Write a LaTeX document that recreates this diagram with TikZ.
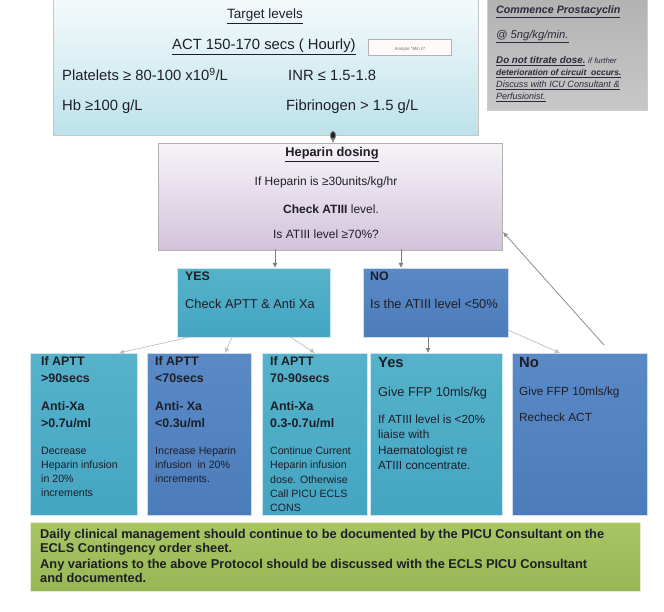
\documentclass[tikz,border=0pt]{standalone}
\usepackage{fontspec}
\setmainfont{Liberation Sans}
\usetikzlibrary{arrows.meta}

\definecolor{ink}{HTML}{1E1E28}
\definecolor{tealA}{HTML}{55B2CA}
\definecolor{tealB}{HTML}{45A5C2}
\definecolor{bluA}{HTML}{5A89C6}
\definecolor{bluB}{HTML}{4C7CBB}
\definecolor{cyanT}{HTML}{F6FBFC}
\definecolor{cyanB}{HTML}{BDE2EA}
\definecolor{lavT}{HTML}{F7F4F8}
\definecolor{lavB}{HTML}{D2C3DA}
\definecolor{greyA}{HTML}{B2B2B2}
\definecolor{greyB}{HTML}{C8C8C8}
\definecolor{grnA}{HTML}{A8C564}
\definecolor{grnB}{HTML}{97B754}
\definecolor{grayink}{HTML}{2A2A3C}

\tikzset{
  panel/.style={anchor=north west, inner sep=0pt, line width=0.8pt},
  tealbox/.style={panel, draw=white!70!tealA, top color=tealA, bottom color=tealB},
  bluebox/.style={panel, draw=white!70!bluA, top color=bluA, bottom color=bluB},
  lbl/.style={anchor=mid west, inner sep=0pt, text=ink},
  ctr/.style={anchor=mid, inner sep=0pt, text=ink},
  ftop/.style={font=\fontsize{14.8}{17}\selectfont},
  fhep/.style={font=\fontsize{12}{14}\selectfont},
  fdec/.style={font=\fontsize{12.8}{15}\selectfont},
  fhead/.style={font=\fontsize{12.4}{14}\selectfont\bfseries},
  fsm/.style={font=\fontsize{10.6}{12}\selectfont},
  fmid/.style={font=\fontsize{11.8}{14}\selectfont},
  fbig/.style={font=\fontsize{14.8}{17}\selectfont\bfseries},
  fg/.style={font=\fontsize{10.7}{12}\selectfont\itshape, text=grayink},
  conn/.style={draw=black!50, line width=0.8pt, -{Latex[length=5pt,width=5pt]}},
  faint/.style={draw=black!25, line width=0.7pt, -{Latex[length=5pt,width=5pt]}},
}

\begin{document}
\begin{tikzpicture}[x=1pt,y=-1pt]
\useasboundingbox (0,0) rectangle (664,612);

% ---- target levels panel ----
\node[panel, draw=black!22, top color=cyanT, bottom color=cyanB,
      minimum width=425pt, minimum height=140pt] (target) at (53,-5) {};
\node[ctr, font=\fontsize{13.5}{15}\selectfont] (tgtitle) at (265,16) {\underline{Target levels}};
\node[lbl, ftop] (act) at (172,47) {\underline{ACT 150-170 secs ( Hourly)}};
\node[panel, draw=black!30, fill=white!92!pink, minimum width=83pt, minimum height=16pt]
      (analyte) at (368,39) {};
\node[ctr, font=\fontsize{4.5}{5}\selectfont, text=black!55] (analytetxt) at (analyte.center) {Analyte *Min II*};
\node[lbl, ftop] (plt) at (62,78) {Platelets ≥ 80-100 x10\textsuperscript{9}/L};
\node[lbl, ftop] (inr) at (288,78) {INR ≤ 1.5-1.8};
\node[lbl, ftop] (hb) at (62,108) {Hb ≥100 g/L};
\node[lbl, ftop] (fib) at (286,108) {Fibrinogen > 1.5 g/L};

% ---- prostacyclin note ----
\node[panel, draw=black!20, top color=greyA, bottom color=greyB,
      minimum width=160pt, minimum height=115pt] (prosta) at (487,-5) {};
\node[lbl, fg, font=\fontsize{10.7}{12}\selectfont\itshape\bfseries] (p1) at (496,11) {\underline{Commence Prostacyclin}};
\node[lbl, fg, font=\fontsize{11.2}{12}\selectfont\itshape] (p2) at (496,36) {\underline{@ 5ng/kg/min.}};
\node[lbl, fg, font=\fontsize{9.8}{11}\selectfont\itshape\bfseries] (p3) at (496,61) {\underline{Do not titrate dose.}\ {\fontsize{7.8}{9}\selectfont\mdseries if further}};
\node[lbl, fg, font=\fontsize{8.5}{9}\selectfont\itshape\bfseries] (p4) at (496,73) {\underline{deterioration of circuit \ occurs.}};
\node[lbl, fg, font=\fontsize{9.1}{10}\selectfont\itshape] (p5) at (496,85) {\underline{Discuss with ICU Consultant \&}};
\node[lbl, fg, font=\fontsize{9}{10}\selectfont\itshape] (p6) at (496,97) {\underline{Perfusionist.}};

% ---- heparin dosing panel ----
\node[panel, draw=black!30, top color=lavT, bottom color=lavB,
      minimum width=344pt, minimum height=107pt] (hep) at (158,143) {};
\node[ctr, font=\fontsize{12.8}{15}\selectfont\bfseries] (heptitle) at (332,154) {\underline{Heparin dosing}};
\node[ctr, fhep] (h1) at (326,183) {If Heparin is ≥30units/kg/hr};
\node[ctr, fhep] (h2) at (331,211) {\textbf{Check ATIII} level.};
\node[ctr, fhep] (h3) at (326,236) {Is ATIII level ≥70\%?};

% ---- decision boxes ----
\node[tealbox, minimum width=153pt, minimum height=69pt] (yes) at (177,268) {};
\node[lbl, fhead] (yest) at (185,278) {YES};
\node[lbl, fdec] (yesq) at (185,306) {Check APTT \& Anti Xa};
\node[bluebox, minimum width=145pt, minimum height=69pt] (no) at (363,268) {};
\node[lbl, fhead] (not) at (370,278) {NO};
\node[lbl, fdec] (noq) at (370,306) {Is the ATIII level <50\%};

% ---- action boxes ----
\node[tealbox, minimum width=107pt, minimum height=162pt] (b1) at (30,353) {};
\node[bluebox, minimum width=104pt, minimum height=162pt] (b2) at (147,353) {};
\node[tealbox, minimum width=105pt, minimum height=162pt] (b3) at (262,353) {};
\node[tealbox, minimum width=132pt, minimum height=162pt] (b4) at (370,353) {};
\node[bluebox, minimum width=135pt, minimum height=162pt] (b5) at (512,353) {};

\node[lbl, fhead] (b1a) at (41,363) {If APTT};
\node[lbl, fhead] (b1b) at (41,380) {>90secs};
\node[lbl, fhead] (b1c) at (41,408) {Anti-Xa};
\node[lbl, fhead] (b1d) at (41,425) {>0.7u/ml};
\node[lbl, fsm] (b1e) at (41,452) {Decrease};
\node[lbl, fsm] (b1f) at (41,466) {Heparin infusion};
\node[lbl, fsm] (b1g) at (41,480) {in 20\%};
\node[lbl, fsm] (b1h) at (41,494) {increments};

\node[lbl, fhead] (b2a) at (155,363) {If APTT};
\node[lbl, fhead] (b2b) at (155,380) {<70secs};
\node[lbl, fhead] (b2c) at (155,408) {Anti- Xa};
\node[lbl, fhead] (b2d) at (155,425) {<0.3u/ml};
\node[lbl, fsm] (b2e) at (155,452) {Increase Heparin};
\node[lbl, fsm] (b2f) at (155,466) {infusion \ in 20\%};
\node[lbl, fsm] (b2g) at (155,480) {increments.};

\node[lbl, fhead] (b3a) at (270,363) {If APTT};
\node[lbl, fhead] (b3b) at (270,380) {70-90secs};
\node[lbl, fhead] (b3c) at (270,408) {Anti-Xa};
\node[lbl, fhead] (b3d) at (270,425) {0.3-0.7u/ml};
\node[lbl, fsm] (b3e) at (270,452) {Continue Current};
\node[lbl, fsm] (b3f) at (270,466) {Heparin infusion};
\node[lbl, fsm] (b3g) at (270,481) {dose. Otherwise};
\node[lbl, fsm] (b3h) at (270,495) {Call PICU ECLS};
\node[lbl, fsm] (b3i) at (270,509) {CONS};

\node[lbl, fbig] (b4a) at (378,365) {Yes};
\node[lbl, fdec] (b4b) at (378,394) {Give FFP 10mls/kg};
\node[lbl, fmid] (b4c) at (378,421) {If ATIII level is <20\%};
\node[lbl, fmid] (b4d) at (378,436) {liaise with};
\node[lbl, fmid] (b4e) at (378,452) {Haematologist re};
\node[lbl, fmid] (b4f) at (378,467) {ATIII concentrate.};

\node[lbl, fbig] (b5a) at (519,365) {No};
\node[lbl, fmid] (b5b) at (519,393) {Give FFP 10mls/kg};
\node[lbl, fmid] (b5c) at (519,419) {Recheck ACT};

% ---- footer note ----
\node[panel, draw=white!70!grnA, top color=grnA, bottom color=grnB,
      minimum width=610pt, minimum height=69pt] (foot) at (30,522) {};
\begin{scope}[every node/.style={lbl, font=\fontsize{12.8}{14}\selectfont\bfseries}]
\node (f1) at (40,536) {Daily clinical management should continue to be documented by the PICU Consultant on the};
\node (f2) at (40,550) {ECLS Contingency order sheet.};
\node (f3) at (40,566) {Any variations to the above Protocol should be discussed with the ECLS PICU Consultant};
\node (f4) at (40,580) {and documented.};
\end{scope}

% ---- connector end points ----
\coordinate (tgtout) at (333,131);
\coordinate (hepyes) at (275,249);
\coordinate (hepno) at (401,249);
\coordinate (hepret) at (503,232);
\coordinate (yesl) at (190,337);
\coordinate (yesm) at (232,337);
\coordinate (yesr) at (290,337);
\coordinate (nob) at (428,337);
\coordinate (nor) at (508,330);
\coordinate (in1) at (119,353);
\coordinate (in2) at (225,353);
\coordinate (in3) at (315,353);
\coordinate (in4) at (428,353);
\coordinate (in5) at (560,353);
\coordinate (out5) at (604,345);

% ---- connectors ----
\draw[conn, {Ellipse[length=9pt,width=6pt,fill=ink]}-{Latex[length=5pt,width=5pt]}] (tgtout) -- (hep.north -| tgtout);
\draw[conn] (hepyes) -- (yes.north -| hepyes);
\draw[conn] (hepno) -- (no.north -| hepno);
\draw[faint] (yesl) -- (in1);
\draw[faint] (yesm) -- (in2);
\draw[faint] (yesr) -- (in3);
\draw[conn] (nob) -- (in4);
\draw[faint] (nor) -- (in5);
\draw[conn, draw=black!45] (out5) -- (hepret);
\end{tikzpicture}
\end{document}
